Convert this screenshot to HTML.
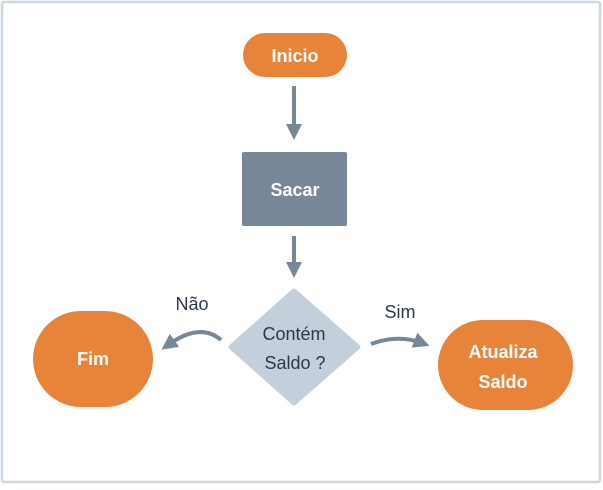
<!DOCTYPE html>
<html><head><meta charset="utf-8"><style>
body{margin:0;background:#fff}
text{font-family:"Liberation Sans",sans-serif}
</style></head><body>
<svg width="603" height="485" viewBox="0 0 603 485" xmlns="http://www.w3.org/2000/svg">
<rect x="2" y="2" width="598" height="480" fill="#fff" stroke="#cdd8e2" stroke-width="2.5" rx="2"/>
<defs><marker id="a" markerWidth="4" markerHeight="4" refX="2" refY="2" orient="auto" markerUnits="strokeWidth"><path d="M0,0 L4,2 L0,4 Z" fill="#778797"/></marker></defs>
<rect x="243" y="33" width="104" height="44" rx="22" fill="#e8843a"/>
<text x="295" y="62" text-anchor="middle" font-size="18" font-weight="bold" fill="#fff">Inicio</text>
<line x1="294" y1="86" x2="294" y2="132" stroke="#778797" stroke-width="4" marker-end="url(#a)"/>
<rect x="242" y="152" width="105" height="74" rx="2" fill="#778797"/>
<text x="295" y="196" text-anchor="middle" font-size="18" font-weight="bold" fill="#fff">Sacar</text>
<line x1="294" y1="236" x2="294" y2="270" stroke="#778797" stroke-width="4" marker-end="url(#a)"/>
<path d="M294,291 L358,347 L294,403 L231,347 Z" fill="#c3cfda" stroke="#c3cfda" stroke-width="5" stroke-linejoin="round"/>
<text x="294" y="340" text-anchor="middle" font-size="18" fill="#2d3a46">Contém</text>
<text x="295" y="369" text-anchor="middle" font-size="18" fill="#2d3a46">Saldo ?</text>
<rect x="33" y="311" width="120" height="96" rx="48" fill="#e8843a"/>
<text x="93" y="365" text-anchor="middle" font-size="18" font-weight="bold" fill="#fff">Fim</text>
<rect x="438" y="320" width="135" height="90" rx="45" fill="#e8843a"/>
<text x="503" y="358" text-anchor="middle" font-size="18" font-weight="bold" fill="#fff">Atualiza</text>
<text x="503" y="388" text-anchor="middle" font-size="18" font-weight="bold" fill="#fff">Saldo</text>
<path d="M221,340 Q200,322 168,345" fill="none" stroke="#778797" stroke-width="4" marker-end="url(#a)"/>
<path d="M371,344 Q398,334 422,343" fill="none" stroke="#778797" stroke-width="4" marker-end="url(#a)"/>
<text x="192" y="310" text-anchor="middle" font-size="18" fill="#2d3a46">Não</text>
<text x="400" y="318" text-anchor="middle" font-size="18" fill="#2d3a46">Sim</text>
</svg>
</body></html>
